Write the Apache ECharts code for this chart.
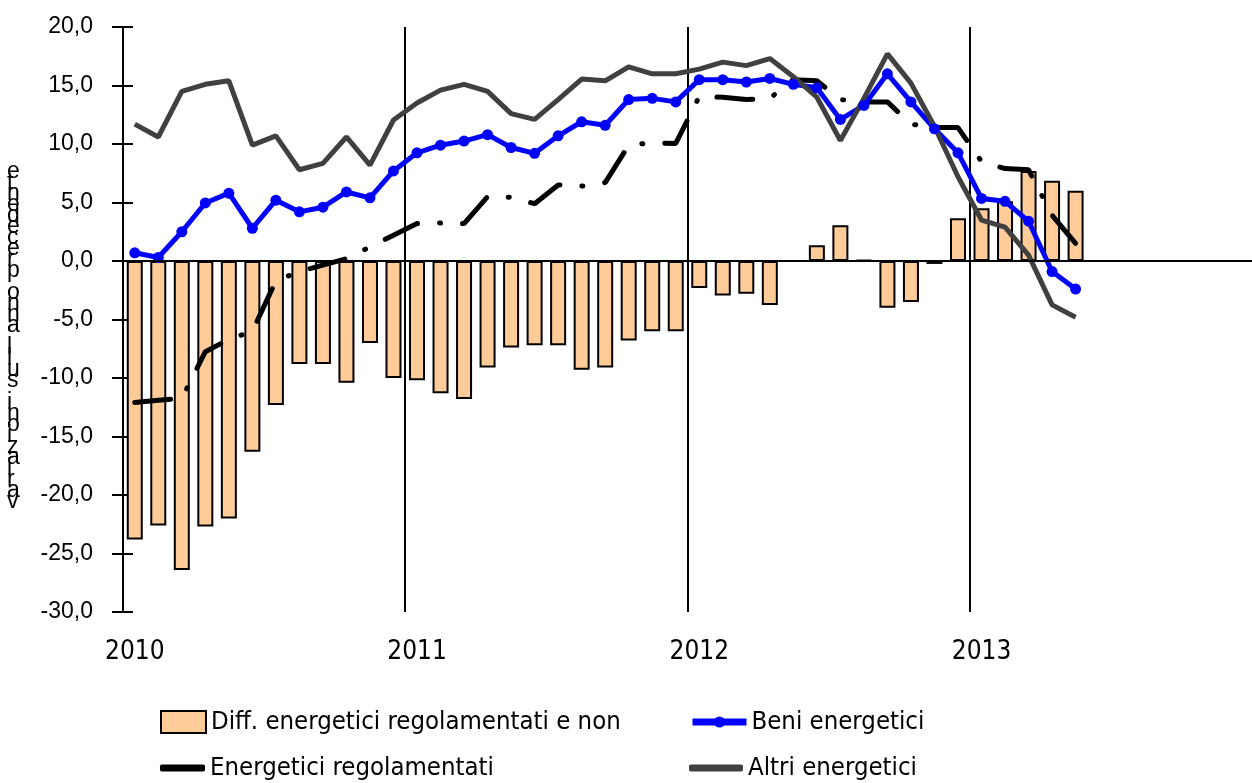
<!DOCTYPE html>
<html>
<head>
<meta charset="utf-8">
<script src="https://cdn.jsdelivr.net/npm/echarts@6/dist/echarts.min.js"></script>
<style>
html,body{margin:0;padding:0;background:#fff;}
#chart{width:1252px;height:783px;}
</style>
</head>
<body>
<div id="chart"></div>
<script>
const years = ['2010', '2011', '2012', '2013'];
const months = ['01','02','03','04','05','06','07','08','09','10','11','12'];
const diffRegNon = [-23.8,-22.6,-26.4,-22.7,-22.0,-16.3,-12.3,-8.8,-8.8,-10.4,-7.0,-10.0,
  -10.2,-11.3,-11.8,-9.1,-7.4,-7.2,-7.2,-9.3,-9.1,-6.8,-6.0,-6.0,
  -2.3,-2.95,-2.8,-3.75,0,1.35,3.05,0.1,-4.0,-3.5,-0.25,3.65,
  4.5,5.1,7.7,6.85,6.0];
const beniEnergetici = [0.7,0.3,2.5,4.96,5.8,2.8,5.2,4.2,4.6,5.9,5.4,7.7,
  9.25,9.9,10.25,10.8,9.7,9.2,10.7,11.9,11.6,13.8,13.9,13.6,
  15.5,15.5,15.3,15.6,15.1,14.8,12.1,13.3,16.0,13.6,11.3,9.25,
  5.35,5.1,3.4,-0.9,-2.4];
const energeticiRegolamentati = [-12.1,-11.9,-11.75,-7.75,-6.7,-6.0,-1.7,-0.9,-0.35,0.2,1.2,2.2,
  3.2,3.25,3.2,5.5,5.45,4.9,6.5,6.4,6.7,9.9,10.1,10.05,
  14.05,14.0,13.8,13.9,15.5,15.4,13.8,13.6,13.6,11.7,11.4,11.4,
  8.5,7.9,7.8,3.9,1.5];
const altriEnergetici = [11.7,10.6,14.5,15.1,15.4,9.9,10.7,7.8,8.35,10.6,8.2,12.05,
  13.5,14.6,15.1,14.5,12.6,12.1,13.8,15.55,15.4,16.6,16.0,16.0,
  16.4,17.0,16.7,17.3,15.75,14.0,10.3,13.9,17.7,15.2,11.5,7.2,
  3.5,2.9,0.5,-3.75,-4.8];
const yTitle = "variazioni sull'anno precedente";

const categories = [];
years.forEach(y => months.forEach(m => categories.push(y + '-' + m)));

const narrow = "'Liberation Sans Narrow', 'DejaVu Sans Condensed', 'Liberation Sans', sans-serif";
const regular = "'Liberation Sans', Arial, sans-serif";

const N_DIFF = 'Diff. energetici regolamentati e non';
const N_BENI = 'Beni energetici';
const N_REG = 'Energetici regolamentati';
const N_ALTRI = 'Altri energetici';

function oneLegend(left, top, w, h, item) {
  return {
    orient: 'horizontal', left: left, top: top,
    itemWidth: w, itemHeight: h, itemGap: 5,
    textStyle: { fontFamily: narrow, fontSize: 25.5, color: '#000' },
    data: [item]
  };
}

const chart = echarts.init(document.getElementById('chart'));
const yCommon = {
  type: 'value', min: -30, max: 20, interval: 5,
  splitLine: { show: false }
};
chart.setOption({
  animation: false,
  backgroundColor: '#fff',
  grid: { left: 123, top: 27, width: 1133, height: 585 },
  xAxis: {
    type: 'category',
    data: categories,
    boundaryGap: true,
    axisLine: { show: false },
    axisTick: { show: false },
    axisLabel: {
      interval: (i) => i % 12 === 0,
      formatter: (v) => v.slice(0, 4),
      fontFamily: narrow, fontSize: 26, color: '#000', margin: 27
    },
    splitLine: {
      show: true,
      showMaxLine: false,
      interval: (i) => i === 0 || i === 12 || i === 24 || i === 36,
      lineStyle: { color: '#000', width: 2 }
    }
  },
  yAxis: [
    Object.assign({}, yCommon, {
      axisLine: { show: true, lineStyle: { color: '#000', width: 2 } },
      axisTick: { show: true, inside: false, length: 11, lineStyle: { color: '#000', width: 2 } },
      axisLabel: {
        formatter: (v) => v.toFixed(1).replace('.', ','),
        fontFamily: regular, fontSize: 23, color: '#000', margin: 30
      }
    }),
    Object.assign({}, yCommon, {
      position: 'left',
      axisLine: { show: false },
      axisTick: { show: true, inside: true, length: 10, lineStyle: { color: '#000', width: 2 } },
      axisLabel: { show: false }
    })
  ],
  legend: [
    oneLegend(155, 704, 45, 22, { name: N_DIFF, icon: 'rect',
      itemStyle: { color: '#FFCC99', borderColor: '#000', borderWidth: 2 } }),
    oneLegend(155, 750, 45, 7, { name: N_REG, icon: 'roundRect',
      itemStyle: { color: '#000' } }),
    oneLegend(684, 704, 54, 14, { name: N_BENI, lineStyle: { width: 7 } }),
    oneLegend(684, 750, 54, 7, { name: N_ALTRI, icon: 'roundRect',
      itemStyle: { color: '#404040' } })
  ],
  graphic: [{
    type: 'text', left: 7, top: 160,
    style: {
      text: yTitle.split('').reverse().join('\n'),
      font: "23px " + regular, fill: '#000', lineHeight: 11, align: 'center'
    }
  }],
  series: [
    {
      name: N_DIFF, type: 'bar',
      data: diffRegNon, barWidth: 16,
      itemStyle: { color: '#FFCC99', borderColor: '#000', borderWidth: 2 },
      markLine: {
        silent: true, symbol: 'none', label: { show: false },
        lineStyle: { color: '#000', width: 2, type: 'solid' },
        data: [{ yAxis: 0 }]
      }
    },
    {
      name: N_REG, type: 'line', data: energeticiRegolamentati,
      symbol: 'none', color: '#000',
      lineStyle: { color: '#000', width: 5, type: [36, 22, 1, 22], cap: 'round' }
    },
    {
      name: N_BENI, type: 'line', data: beniEnergetici,
      symbol: 'circle', symbolSize: 11, color: '#0000FF',
      itemStyle: { color: '#0000FF' },
      lineStyle: { color: '#0000FF', width: 5 }
    },
    {
      name: N_ALTRI, type: 'line', data: altriEnergetici,
      symbol: 'none', color: '#404040',
      lineStyle: { color: '#404040', width: 5 }
    }
  ]
});
</script>
</body>
</html>
